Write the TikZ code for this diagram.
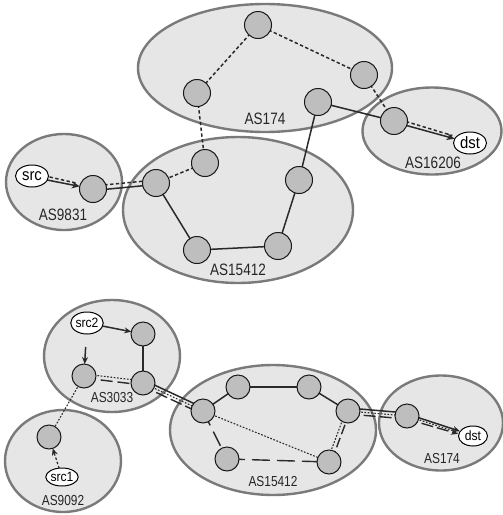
\documentclass[tikz,border=0pt]{standalone}
\usepackage{fontspec}
\setmainfont{Liberation Sans}
\newfontfamily\nar[FakeStretch=0.82]{Liberation Sans}
\newfontfamily\narh[FakeStretch=0.9]{Liberation Sans}
\usetikzlibrary{shapes.geometric,arrows.meta,calc}
\definecolor{asfill}{HTML}{E6E6E6}
\definecolor{asline}{HTML}{7A7A7A}
\definecolor{rtfill}{HTML}{BEBEBE}
\definecolor{linec}{HTML}{2A2A2A}
\pgfdeclarelayer{bg}\pgfdeclarelayer{mid}\pgfsetlayers{bg,mid,main}
\newcommand\pl[5]{\draw[#1] ($(#2.center)!#4!90:(#3.center)$) -- ($(#3.center)!#5!-90:(#2.center)$);}
\begin{document}
\begin{tikzpicture}[x=1pt,y=-1pt,
  asreg/.style={ellipse,draw=asline,fill=asfill,line width=2.4pt,inner sep=0},
  rt/.style={circle,draw=black!90,fill=rtfill,line width=1pt,minimum size=27pt,inner sep=0},
  rts/.style={rt,minimum size=24pt},
  host/.style={ellipse,draw=black,fill=white,line width=1pt,inner sep=0,minimum width=33pt,minimum height=22pt,font=\narh\fontsize{16.5}{16.5}\selectfont},
  hosts/.style={host,minimum width=30pt,minimum height=20pt,font=\narh\fontsize{13.5}{13.5}\selectfont},
  lab/.style={inner sep=0,text=black!85,font=\nar\fontsize{16.5}{16.5}\selectfont},
  labs/.style={lab,font=\nar\fontsize{14.5}{14.5}\selectfont},
  ln/.style={draw=linec,line width=1.5pt},
  dsh/.style={draw=linec,line width=1.5pt,dash pattern=on 3.4pt off 2.4pt},
  dt/.style={draw=linec,line width=1.1pt,dash pattern=on 1.7pt off 1.6pt},
  ldsh/.style={draw=linec,line width=1.4pt,dash pattern=on 16pt off 7pt},
  arr/.style={-{Stealth[length=8pt,width=7pt]}},
  arrs/.style={-{Stealth[length=7pt,width=6pt]}}
]
\useasboundingbox (0,0) rectangle (503,515);
% ---------- top diagram ----------
\begin{pgfonlayer}{bg}
\node[asreg,minimum width=254pt,minimum height=128pt] (TA174) at (265,68) {};
\node[asreg,minimum width=139pt,minimum height=87pt] (TA16206) at (432,131) {};
\node[asreg,minimum width=116pt,minimum height=96pt] (TA9831) at (64,182) {};
\node[asreg,minimum width=230pt,minimum height=146pt] (TA15412) at (238,210) {};
\end{pgfonlayer}
\node[lab] (L174) at (265,119) {AS174};
\node[lab] (L16206) at (433,163) {AS16206};
\node[lab] (L9831) at (63,215) {AS9831};
\node[lab] (L15412) at (238,270) {AS15412};

\node[rt] (n1) at (258,25) {};
\node[rt] (n2) at (197,93) {};
\node[rt] (n3) at (364,75) {};
\node[rt] (n4) at (318,102) {};
\node[rt] (n5) at (394,121) {};
\node[host] (dst) at (470,143) {dst};
\node[host] (src) at (32,176) {src};
\node[rt] (n6) at (93,189) {};
\node[rt] (n7) at (156,183) {};
\node[rt] (n8) at (205,163) {};
\node[rt] (n9) at (299,180) {};
\node[rt] (n10) at (278,246) {};
\node[rt] (n11) at (197,250) {};

\begin{pgfonlayer}{mid}
\draw[dsh] (n1.center) -- (n2.center);
\draw[dsh] (n1.center) -- (n3.center);
\draw[dsh] (n3.center) -- (n5.center);
\draw[dsh] (n2.center) -- (n8.center);
\draw[dsh] (n8.center) -- (n7.center);
\draw[ln] (n4.center) -- (n5.center);
\draw[ln] (n4.center) -- (n9.center);
\draw[ln] (n9.center) -- (n10.center);
\draw[ln] (n10.center) -- (n11.center);
\draw[ln] (n11.center) -- (n7.center);
\pl{dsh}{n6}{n7}{3pt}{3pt}
\pl{ln}{n6}{n7}{-1.5pt}{-1.5pt}
\pl{ln,arr,shorten >=13.5pt}{src}{n6}{-1pt}{0pt}
\pl{dsh,shorten >=17pt}{src}{n6}{3pt}{2pt}
\pl{ln,arr,shorten >=16pt}{n5}{dst}{-1pt}{0pt}
\pl{dsh,shorten >=19pt}{n5}{dst}{3pt}{2pt}
\end{pgfonlayer}

% ---------- bottom diagram ----------
\begin{pgfonlayer}{bg}
\node[asreg,minimum width=136pt,minimum height=112pt] (BA3033) at (112,356) {};
\node[asreg,minimum width=116pt,minimum height=102pt] (BA9092) at (63,461) {};
\node[asreg,minimum width=206pt,minimum height=130pt] (BA15412) at (273,430) {};
\node[asreg,minimum width=124pt,minimum height=95pt] (BA174) at (441,423) {};
\end{pgfonlayer}
\node[labs] (L3033) at (112,398) {AS3033};
\node[labs] (L9092) at (63,501) {AS9092};
\node[labs] (LB15412) at (273,482) {AS15412};
\node[labs] (LB174) at (442,459) {AS174};

\node[hosts,minimum width=32pt,minimum height=22pt] (src2) at (87,323) {src2};
\node[rts] (b1) at (143,334) {};
\node[rts] (b2) at (84,376) {};
\node[rts] (b3) at (143,383) {};
\node[rts] (b4) at (203,411) {};
\node[rts] (b5) at (238,387) {};
\node[rts] (b6) at (309,387) {};
\node[rts] (b7) at (348,411) {};
\node[rts] (b8) at (227,459) {};
\node[rts] (b9) at (329,462) {};
\node[rts] (b10) at (407,416) {};
\node[hosts,minimum width=29pt,minimum height=20pt] (dst2) at (473,436) {dst};
\node[rts] (b11) at (49,437) {};
\node[hosts,minimum width=28pt,minimum height=18pt] (src1) at (62,477) {src1};

\begin{pgfonlayer}{mid}
\draw[ln,arrs,shorten >=12pt] (src2.center) -- (b1.center);
\draw[ln,arrs,shorten <=24pt,shorten >=12pt] (src2.center) -- (b2.center);
\draw[ln] (b1.center) -- (b3.center);
\pl{dt}{b2}{b3}{2pt}{2pt}
\pl{ldsh,dash pattern=on 12pt off 5pt}{b2}{b3}{-2pt}{-2pt}
\pl{ln}{b3}{b4}{3pt}{3pt}
\pl{dt}{b3}{b4}{0pt}{0pt}
\pl{ldsh,dash pattern=on 12pt off 4pt}{b3}{b4}{-3pt}{-3pt}
\draw[ln] (b4.center) -- (b5.center);
\draw[ln] (b5.center) -- (b6.center);
\draw[ln] (b6.center) -- (b7.center);
\draw[ldsh] (b4.center) -- (b8.center);
\draw[ldsh,dash pattern=on 18pt off 7pt] (b8.center) -- (b9.center);
\draw[dt] (b4.center) -- (b9.center);
\pl{dt}{b7}{b9}{-2pt}{-2pt}
\pl{ldsh,dash pattern=on 10pt off 4pt}{b7}{b9}{2pt}{2pt}
\pl{ln}{b7}{b10}{3pt}{3pt}
\pl{dt}{b7}{b10}{0pt}{0pt}
\pl{ldsh,dash pattern=on 12pt off 4pt}{b7}{b10}{-3pt}{-3pt}
\pl{ln,arrs,shorten >=14pt}{b10}{dst2}{2pt}{0.5pt}
\pl{dt,shorten >=16pt}{b10}{dst2}{0pt}{-1pt}
\pl{ldsh,dash pattern=on 12pt off 4pt,arrs,shorten >=15pt}{b10}{dst2}{-3pt}{-2pt}
\draw[dt] (b2.center) -- (b11.center);
\draw[dsh,dash pattern=on 2.5pt off 2pt,line width=1.2pt,arrs,shorten >=12pt] (src1.center) -- (b11.center);
\end{pgfonlayer}
\end{tikzpicture}
\end{document}
